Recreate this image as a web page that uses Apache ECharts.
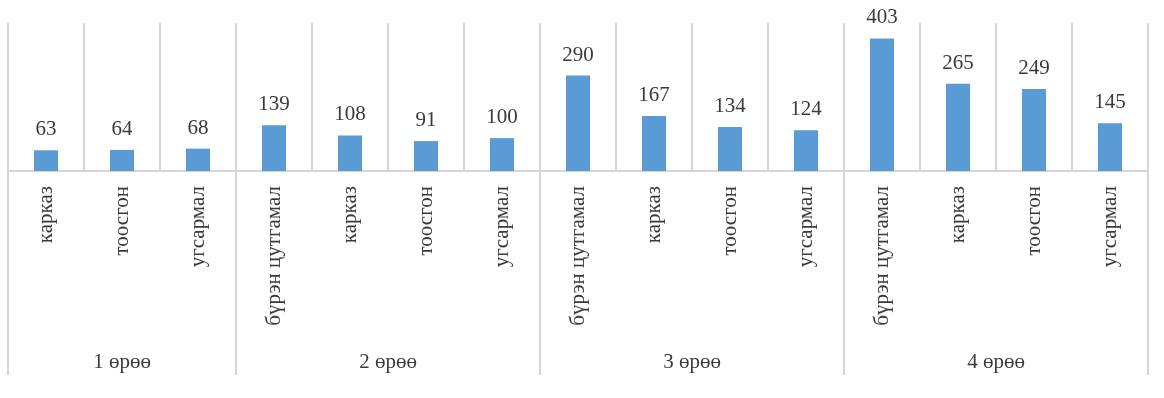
<!DOCTYPE html>
<html>
<head>
<meta charset="utf-8">
<script src="https://cdn.jsdelivr.net/npm/echarts@6/dist/echarts.min.js"></script>
<style>html,body{margin:0;padding:0;background:#fff}#c{width:1164px;height:398px}</style>
</head>
<body>
<div id="c"></div>
<script>
const categories = ['карказ','тоосгон','угсармал','бүрэн цутгамал','карказ','тоосгон','угсармал','бүрэн цутгамал','карказ','тоосгон','угсармал','бүрэн цутгамал','карказ','тоосгон','угсармал'];
const values = [63,64,68,139,108,91,100,290,167,134,124,403,265,249,145];
const groupNames = ['1 өрөө','2 өрөө','3 өрөө','4 өрөө'];
const groupSizes = [3,4,4,4];

const groupData = [];
let s = 0;
groupSizes.forEach(function(n){ groupData.push([s, n]); s += n; });

const FONT = 'Liberation Serif';
const TXT = '#3a3a3a';
const LINE = '#d6d6d6';

const chart = echarts.init(document.getElementById('c'));
chart.setOption({
  animation: false,
  grid: {left: 8, right: 16, top: 23, bottom: 227},
  xAxis: {
    type: 'category',
    data: categories,
    axisLine: {lineStyle: {color: LINE, width: 2}},
    axisTick: {show: false},
    splitLine: {show: true, interval: 0, lineStyle: {color: LINE, width: 2}},
    axisLabel: {interval: 0, rotate: 90, margin: 15, color: TXT, fontFamily: FONT, fontSize: 21}
  },
  yAxis: {type: 'value', min: 0, max: 450, show: false, splitLine: {show: false}},
  series: [
    {
      type: 'bar',
      data: values,
      barWidth: 24,
      itemStyle: {color: '#5b9bd5'},
      label: {show: true, position: 'top', distance: 10, color: TXT, fontFamily: FONT, fontSize: 21}
    },
    {
      type: 'custom',
      data: groupData,
      clip: false,
      silent: true,
      renderItem: function(params, api){
        const start = api.value(0), n = api.value(1);
        const bw = api.size([1, 0])[0];
        const p = api.coord([start, 0]);
        const x0 = p[0] - bw / 2, y0 = p[1];
        const x1 = x0 + n * bw;
        const st = {stroke: LINE, lineWidth: 2};
        return {
          type: 'group',
          children: [
            {type: 'line', shape: {x1: x0, y1: y0, x2: x0, y2: y0 + 204}, style: st},
            {type: 'line', shape: {x1: x1, y1: y0, x2: x1, y2: y0 + 204}, style: st},
            {type: 'text', style: {text: groupNames[params.dataIndex], x: (x0 + x1) / 2, y: y0 + 191,
              align: 'center', verticalAlign: 'middle', fill: TXT, font: '21px "' + FONT + '"'}}
          ]
        };
      }
    }
  ]
});
</script>
</body>
</html>
